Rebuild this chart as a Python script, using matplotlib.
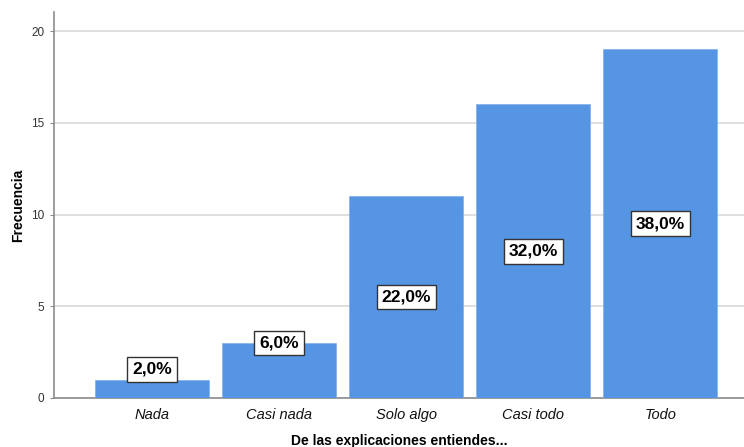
import matplotlib
matplotlib.use('Agg')
import matplotlib.pyplot as plt
import numpy as np

# Frequency table: "De las explicaciones entiendes..."
categories = ['Nada', 'Casi nada', 'Solo algo', 'Casi todo', 'Todo']
counts = [1, 3, 11, 16, 19]
percents = [2.0, 6.0, 22.0, 32.0, 38.0]

plt.rcParams['font.family'] = ['Liberation Sans', 'DejaVu Sans']

bar_color = '#5595e3'
axis_color = '#8c8c8c'

fig = plt.figure(figsize=(7.44, 4.47), dpi=100)
ax = fig.add_axes([54 / 744, 49 / 447, 690 / 744, 386 / 447])

x = np.arange(len(categories))
ax.bar(x, counts, width=0.9, color=bar_color, edgecolor='#7fb0ec',
       linewidth=0.5, zorder=3)

ax.set_xlim(-0.772, 4.66)
ax.set_ylim(0, 21.04)
ax.set_yticks([0, 5, 10, 15, 20])
ax.yaxis.grid(True, color='#d9d9d9', linewidth=1.2, zorder=0)
ax.set_axisbelow(True)

for side in ['top', 'right']:
    ax.spines[side].set_visible(False)
for side in ['left', 'bottom']:
    ax.spines[side].set_color(axis_color)
    ax.spines[side].set_linewidth(1.2)

ax.tick_params(axis='y', length=3, color=axis_color, labelsize=8.5,
               labelcolor='#333333', pad=4)
ax.tick_params(axis='x', length=0, pad=7)
ax.set_xticks(x)
ax.set_xticklabels(categories, fontsize=10.5, fontstyle='italic',
                   color='#111111')

ax.set_ylabel('Frecuencia', fontsize=10, fontweight='bold', labelpad=4)
ax.set_xlabel('De las explicaciones entiendes...', fontsize=10,
              fontweight='bold', labelpad=9)

# percentage boxes: centred in tall bars, at the top of short ones
box = dict(boxstyle='square,pad=0.28', facecolor='white',
           edgecolor='#333333', linewidth=1.0)
for xi, c, p in zip(x, counts, percents):
    text = '{:.1f}%'.format(p).replace('.', ',')
    if c >= 5:
        y, va = c / 2, 'center'
    elif c >= 2:
        y, va = c, 'center'
    else:
        y, va = c + 0.15, 'bottom'
    ax.text(xi, y, text, ha='center', va=va, fontsize=12.5,
            fontweight='bold', bbox=box, zorder=4)

fig.savefig('out.png', dpi=100)
